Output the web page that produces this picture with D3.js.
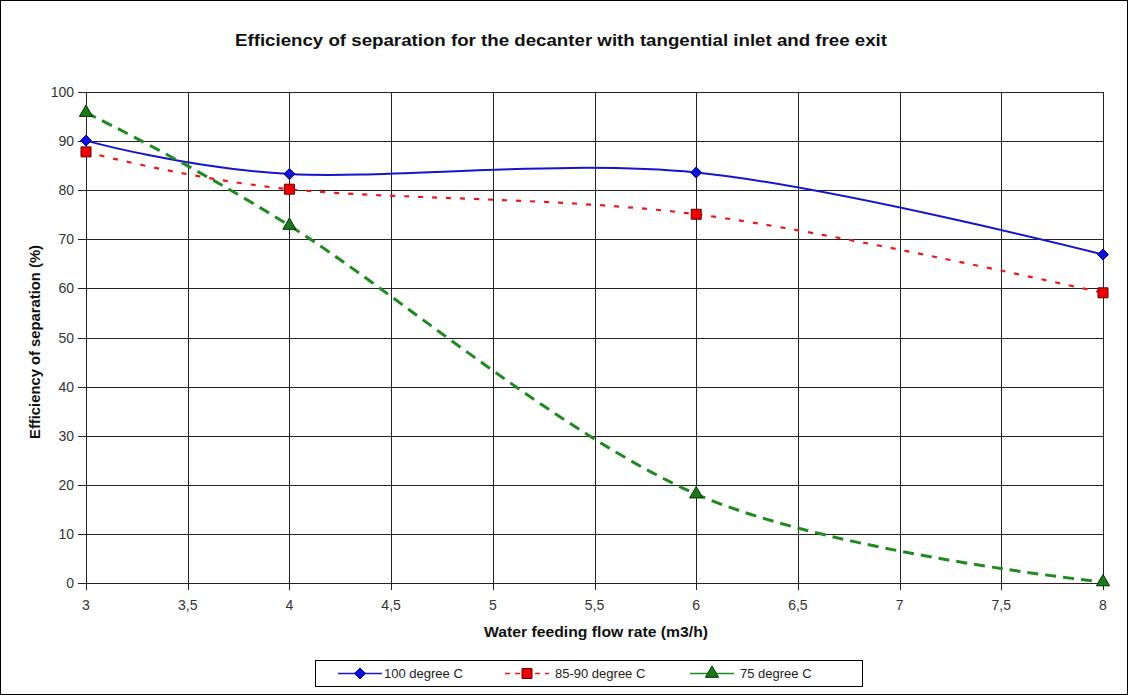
<!DOCTYPE html>
<html><head><meta charset="utf-8">
<script src="https://cdn.jsdelivr.net/npm/d3@7"></script>
<style>body{margin:0;background:#fff}svg{display:block}text{font-family:"Liberation Sans",Arial,sans-serif}</style>
</head><body>
<svg id="c" width="1129" height="695"></svg>
<script>
const xValues = [3, 4, 6, 8];
const series100 = [90.1, 83.3, 83.6, 66.9];
const series8590 = [87.8, 80.2, 75.1, 59.1];
const series75 = [95.8, 72.8, 18.1, 0.2];
const seriesNames = ["100 degree C", "85-90 degree C", "75 degree C"];
const xTicks = [3, 3.5, 4, 4.5, 5, 5.5, 6, 6.5, 7, 7.5, 8];
const xTickLabels = ["3", "3,5", "4", "4,5", "5", "5,5", "6", "6,5", "7", "7,5", "8"];
const yTicks = [0, 10, 20, 30, 40, 50, 60, 70, 80, 90, 100];

const svg = d3.select("#c");
svg.append("rect").attr("x",0.5).attr("y",0.5).attr("width",1127).attr("height",694).attr("fill","#fff").attr("stroke","#000");

const x = d3.scaleLinear().domain([3,8]).range([86,1103]);
const y = d3.scaleLinear().domain([0,100]).range([583,92]);

const g = svg.append("g");
g.selectAll(".hg").data(yTicks).join("line").attr("x1",78).attr("x2",1103)
  .attr("y1",d=>Math.round(y(d))+0.5).attr("y2",d=>Math.round(y(d))+0.5).attr("stroke","#222").attr("stroke-width",1);
g.selectAll(".vg").data(xTicks).join("line").attr("y1",92).attr("y2",590)
  .attr("x1",d=>Math.round(x(d))+0.5).attr("x2",d=>Math.round(x(d))+0.5).attr("stroke","#222").attr("stroke-width",1);

g.selectAll(".yl").data(yTicks).join("text").attr("x",74).attr("y",d=>y(d)+5)
  .attr("text-anchor","end").attr("font-size",14).attr("fill","#333").text(d=>d);
g.selectAll(".xl").data(xTicks).join("text").attr("x",d=>x(d)).attr("y",610)
  .attr("text-anchor","middle").attr("font-size",14).attr("fill","#333").text((d,i)=>xTickLabels[i]);

svg.append("text").attr("x",561).attr("y",46).attr("text-anchor","middle").attr("font-size",16).attr("font-weight","bold")
  .attr("fill","#111").attr("textLength",652).attr("lengthAdjust","spacingAndGlyphs")
  .text("Efficiency of separation for the decanter with tangential inlet and free exit");
svg.append("text").attr("x",596).attr("y",637).attr("text-anchor","middle").attr("font-size",14).attr("font-weight","bold")
  .attr("fill","#111").attr("textLength",224).attr("lengthAdjust","spacingAndGlyphs").text("Water feeding flow rate (m3/h)");
svg.append("text").attr("transform","translate(40,342) rotate(-90)").attr("text-anchor","middle").attr("font-size",14).attr("font-weight","bold")
  .attr("fill","#111").attr("textLength",194).attr("lengthAdjust","spacingAndGlyphs").text("Efficiency of separation (%)");

const line = d3.line().x(d=>x(d[0])).y(d=>y(d[1])).curve(d3.curveCardinal.tension(0));
const styles = [
  {data:series100, color:"#1515cc", w:2, dash:null, marker:"diamond", fill:"#1010dd", mstroke:"#000080"},
  {data:series8590, color:"#e81818", w:2.2, dash:"5,9", marker:"square", fill:"#ee0000", mstroke:"#600"},
  {data:series75, color:"#1f8a1f", w:3, dash:"11,7", marker:"triangle", fill:"#1a7a1a", mstroke:"#003300"}
];
const sym = {diamond:()=>"M0,-5.5L5.5,0L0,5.5L-5.5,0Z",
             square:d3.symbol().type(d3.symbolSquare).size(100),
             triangle:d3.symbol().type(d3.symbolTriangle).size(75)};
styles.forEach(s=>{
  const pts = xValues.map((v,i)=>[v,s.data[i]]);
  g.append("path").attr("d",line(pts)).attr("fill","none").attr("stroke",s.color).attr("stroke-width",s.w)
    .attr("stroke-dasharray",s.dash);
  g.selectAll(null).data(pts).join("path").attr("d",sym[s.marker]())
    .attr("transform",d=>`translate(${x(d[0])},${y(d[1])})`).attr("fill",s.fill).attr("stroke",s.mstroke).attr("stroke-width",1);
});

const lg = svg.append("g");
lg.append("rect").attr("x",315.5).attr("y",660.5).attr("width",547).attr("height",26).attr("fill","#fff").attr("stroke","#000");
const lx = [338, 505, 690];
styles.forEach((s,i)=>{
  const cx = lx[i]+22;
  lg.append("line").attr("x1",lx[i]).attr("x2",lx[i]+44).attr("y1",673.5).attr("y2",673.5)
    .attr("stroke",s.color).attr("stroke-width",1.5).attr("stroke-dasharray",i===1?"5,5":null);
  lg.append("path").attr("d",sym[s.marker]()).attr("transform",`translate(${cx},673.5)`)
    .attr("fill",s.fill).attr("stroke",s.mstroke);
  lg.append("text").attr("x",lx[i]+(i===0?46:50)).attr("y",678).attr("font-size",13).attr("fill","#222").text(seriesNames[i]);
});
</script>
</body></html>
